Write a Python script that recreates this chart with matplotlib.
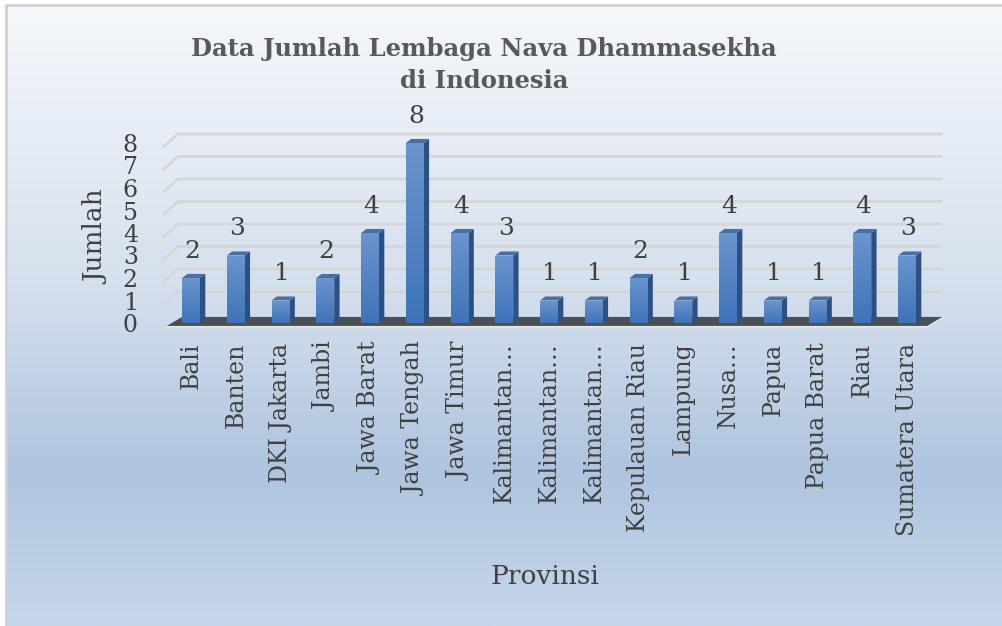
import numpy as np
import matplotlib
matplotlib.use("Agg")
import matplotlib.pyplot as plt
from matplotlib.patches import Polygon
from matplotlib.colors import LinearSegmentedColormap

provinces = ["Bali", "Banten", "DKI Jakarta", "Jambi", "Jawa Barat", "Jawa Tengah",
             "Jawa Timur", "Kalimantan…", "Kalimantan…", "Kalimantan…", "Kepulauan Riau",
             "Lampung", "Nusa…", "Papua", "Papua Barat", "Riau", "Sumatera Utara"]
counts = [2, 3, 1, 2, 4, 8, 4, 3, 1, 1, 2, 1, 4, 1, 1, 4, 3]
yticks = list(range(0, 9))

title = "Data Jumlah Lembaga Nava Dhammasekha\ndi Indonesia"
xlabel = "Provinsi"
ylabel = "Jumlah"

plt.rcParams["font.family"] = ["DejaVu Serif"]
txt = "#404040"

W, H = 1003, 626
fig = plt.figure(figsize=(W / 100, H / 100), dpi=100)

# background panel with gradient
bg = fig.add_axes([0, 0, 1, 1], zorder=0)
bg.set_xlim(0, W)
bg.set_ylim(H, 0)
bg.axis("off")
bg_cmap = LinearSegmentedColormap.from_list(
    "bg", [(0, "#f5f8fc"), (0.45, "#d5e0ee"), (0.75, "#afc4df"), (1.0, "#c6d6ea")])
grad = np.linspace(0, 1, 256).reshape(-1, 1)
bg.imshow(grad, cmap=bg_cmap, aspect="auto", extent=[6, W, H, 5], zorder=0)
bg.plot([6, 6, W], [H, 5, 5], color="#d0d0d0", lw=2, zorder=1)

# plot axes: y=0 at 323px, 22.5 px per unit; x index 0 at 191px, 44.75 px per unit
x0, xs = 191, 44.75
y0, ys = 323, 22.5
xlim = (-1.0, 16.9)
ylim = (-0.5, 9.0)
left = x0 + xlim[0] * xs
right = x0 + xlim[1] * xs
top = y0 - ylim[1] * ys
bottom = y0 - ylim[0] * ys
ax = fig.add_axes([left / W, 1 - bottom / H, (right - left) / W, (bottom - top) / H], zorder=1)
ax.patch.set_visible(False)
for s in ax.spines.values():
    s.set_visible(False)

n = len(counts)
x = np.arange(n)
bw = 0.40
dx, dy = 0.12, 0.18  # bar depth
fdx, fdy = 0.34, 0.40  # floor / wall depth

# floor slab
fl = -0.54
fr = x[-1] + 0.45
ax.add_patch(Polygon([(fl, -0.13), (fr, -0.13), (fr + fdx, 0.27), (fl + fdx, 0.27)],
                     closed=True, facecolor="#4a5058", edgecolor="none", zorder=2))
ax.plot([fl, fr, fr + fdx], [-0.17, -0.17, 0.23], color="#e8e4dc", lw=1.5, zorder=1.9)

# gridlines (back wall + left wall)
for v in yticks[1:]:
    ax.plot([fl - 0.09, fl + fdx - 0.09, fr + fdx], [v - 0.2, v + 0.4, v + 0.4],
            color="#d6d6d6", lw=2, zorder=1.5, solid_capstyle="butt")

# bars
bar_cmap = LinearSegmentedColormap.from_list("bar", ["#6b95cd", "#3e73b9"])
fronts = ax.bar(x, counts, width=bw, color="none", edgecolor="none", zorder=4)
for xi, v, rect in zip(x, counts, fronts):
    xl, xr = xi - bw / 2, xi + bw / 2
    ax.add_patch(Polygon([(xr, 0), (xr + dx, dy), (xr + dx, v + dy), (xr, v)],
                         closed=True, facecolor="#2d5084", edgecolor="none", zorder=3))
    ax.add_patch(Polygon([(xl, v), (xr, v), (xr + dx, v + dy), (xl + dx, v + dy)],
                         closed=True, facecolor="#4770a8", edgecolor="none", zorder=3))
    im = ax.imshow(grad, cmap=bar_cmap, aspect="auto", extent=[xl, xr, 0, v], zorder=4)
    im.set_clip_path(rect)
    ax.annotate(str(v), (xi + 0.03, v), xytext=(0, 11), textcoords="offset points",
                ha="center", va="bottom", fontsize=18, color=txt, zorder=5)
ax.set_xlim(*xlim)
ax.set_ylim(*ylim)

ax.set_xticks(x)
ax.set_xticklabels(provinces, rotation=90, fontsize=17, color=txt, va="top")
ax.set_yticks(yticks)
ax.set_yticklabels([str(v) for v in yticks], fontsize=17, color=txt)
ax.tick_params(axis="x", length=0, pad=6)
ax.tick_params(axis="y", length=0, pad=6)

fig.text(484 / W, 1 - 65 / H, title, ha="center", va="center", fontsize=17.5,
         fontweight="bold", color="#595959", linespacing=1.45)
fig.text(545 / W, 1 - 576 / H, xlabel, ha="center", va="center", fontsize=19, color=txt)
fig.text(97 / W, 1 - 237 / H, ylabel, ha="center", va="center", rotation=90,
         fontsize=19, color=txt)

fig.savefig("out.png", dpi=100)
